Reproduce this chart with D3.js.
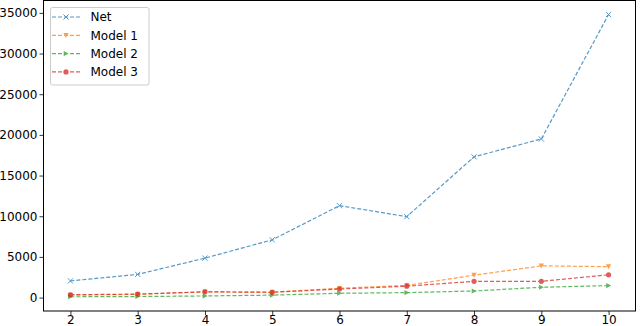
<!DOCTYPE html>
<html><head><meta charset="utf-8">
<script src="https://cdn.jsdelivr.net/npm/d3@7"></script>
<style>html,body{margin:0;padding:0;background:#fff}svg{display:block}text{font-family:"DejaVu Sans",sans-serif}</style>
</head><body><svg id="c" width="640" height="326"></svg>
<script>
const xs = [2, 3, 4, 5, 6, 7, 8, 9, 10];
const net = [2050, 2850, 4850, 7100, 11300, 9950, 17300, 19500, 34800];
const model1 = [300, 400, 700, 670, 1150, 1500, 2750, 3900, 3800];
const model2 = [100, 130, 200, 300, 530, 610, 810, 1270, 1470];
const model3 = [350, 430, 710, 650, 1050, 1400, 2000, 2000, 2800];
const seriesNames = ["Net", "Model 1", "Model 2", "Model 3"];
const colors = ["#1f77b4", "#ff7f0e", "#2ca02c", "#d62728"];
const markers = ["x", "v", ">", "o"];
const yTicks = [0, 5000, 10000, 15000, 20000, 25000, 30000, 35000];

const series = [net, model1, model2, model3];
const svg = d3.select("#c");
const L = 43.5, R = 635.5, T = 0.5, B = 311;
const x = d3.scaleLinear().domain([1.6, 10.4]).range([L, R]);
const y = d3.scaleLinear().domain([-1650, 36520]).range([B, T]);

// axes
const gx = svg.append("g").attr("transform", `translate(0,${B})`)
  .call(d3.axisBottom(x).tickValues(xs).tickSize(4).tickPadding(0.5).tickFormat(d3.format("d")));
const gy = svg.append("g").attr("transform", `translate(${L},0)`)
  .call(d3.axisLeft(y).tickValues(yTicks).tickSize(4).tickPadding(2).tickFormat(d3.format("d")));
[gx, gy].forEach(g => {
  g.select(".domain").remove();
  g.selectAll("text").attr("font-size", 12).attr("fill", "#000").style("font-family", "DejaVu Sans");
  g.selectAll("line").attr("stroke", "#000").attr("stroke-width", 0.8);
});
gx.selectAll("text").attr("dy", "0.72em");

function drawMarker(g, type, cx, cy, color) {
  const s = 2.6;
  if (type === "x") {
    g.append("path").attr("d", `M${cx-s},${cy-s}L${cx+s},${cy+s}M${cx-s},${cy+s}L${cx+s},${cy-s}`)
      .attr("stroke", color).attr("stroke-width", 1).attr("fill", "none");
  } else if (type === "v") {
    g.append("path").attr("d", `M${cx-s},${cy-s*0.9}L${cx+s},${cy-s*0.9}L${cx},${cy+s}Z`).attr("fill", color);
  } else if (type === ">") {
    g.append("path").attr("d", `M${cx-s*0.9},${cy-s}L${cx-s*0.9},${cy+s}L${cx+s},${cy}Z`).attr("fill", color);
  } else {
    g.append("circle").attr("cx", cx).attr("cy", cy).attr("r", s).attr("fill", color);
  }
}

const line = d3.line().x((d, i) => x(xs[i])).y(d => y(d));
series.forEach((vals, si) => {
  const g = svg.append("g").attr("opacity", 0.75);
  g.append("path").attr("d", line(vals)).attr("fill", "none")
    .attr("stroke", colors[si]).attr("stroke-width", 1.2).attr("stroke-dasharray", "4,2");
  vals.forEach((v, i) => drawMarker(g, markers[si], x(xs[i]), y(v), colors[si]));
});

// spines
svg.append("rect").attr("x", L).attr("y", T).attr("width", R - L).attr("height", B - T)
  .attr("fill", "none").attr("stroke", "#000").attr("stroke-width", 1);

// legend
const lg = svg.append("g");
lg.append("rect").attr("x", 50.5).attr("y", 7.5).attr("width", 98.5).attr("height", 77.5).attr("rx", 2)
  .attr("fill", "#fff").attr("fill-opacity", 0.8).attr("stroke", "#ccc").attr("stroke-width", 1);
seriesNames.forEach((n, i) => {
  const yy = 17 + i * 18.3;
  const gi = lg.append("g").attr("opacity", 0.75);
  gi.append("line").attr("x1", 52).attr("x2", 80).attr("y1", yy).attr("y2", yy)
    .attr("stroke", colors[i]).attr("stroke-width", 1.2).attr("stroke-dasharray", "4,2");
  drawMarker(gi, markers[i], 66, yy, colors[i]);
  lg.append("text").attr("x", 90.5).attr("y", yy).attr("dy", "0.35em").attr("font-size", 12).attr("fill", "#000").text(n);
});
</script></body></html>
